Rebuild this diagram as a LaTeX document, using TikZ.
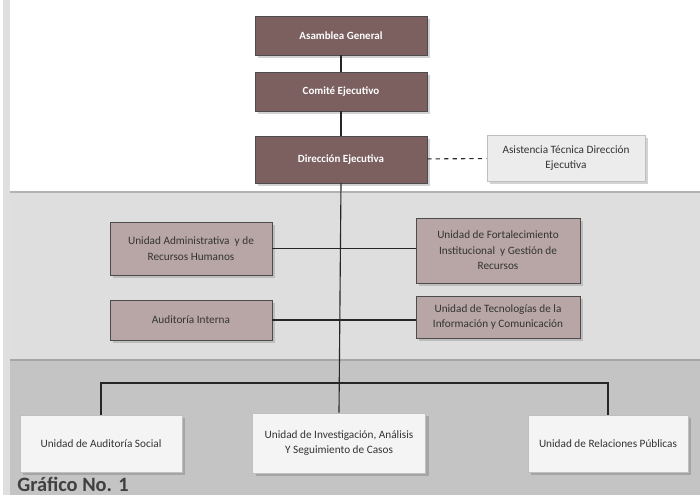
\documentclass[tikz,border=0pt]{standalone}
\usepackage{fontspec}
\setmainfont{Carlito}
\usetikzlibrary{shadows}
\definecolor{bandA}{RGB}{222,222,222}
\definecolor{bandB}{RGB}{196,196,196}
\definecolor{topfill}{RGB}{124,96,96}
\definecolor{midfill}{RGB}{184,166,166}
\definecolor{lowfill}{RGB}{244,244,244}
\definecolor{sidefill}{RGB}{236,236,236}
\begin{document}
\begin{tikzpicture}[x=0.025cm, y=-0.025cm]
    % Define node styles
    \tikzstyle{topnode}=[rectangle, fill=topfill, draw=gray!60!black, text=white, align=center, font=\fontsize{7.8}{10}\selectfont\bfseries, drop shadow={opacity=0.35}]
    \tikzstyle{midnode}=[rectangle, fill=midfill, draw=gray!60!black, text=black!80, align=center, font=\fontsize{8}{11}\selectfont, drop shadow={opacity=0.35}]
    \tikzstyle{lownode}=[rectangle, fill=lowfill, draw=gray!50, text=black!80, align=center, font=\fontsize{8}{11}\selectfont, drop shadow={opacity=0.45}]
    \tikzstyle{link}=[black!85, thick]

    \useasboundingbox (0,0) rectangle (700,495);

    % Background bands
    \fill[white] (0,0) rectangle (700,495);
    \fill[gray!25] (3,0) rectangle (10,495);
    \fill[bandA] (10,192) rectangle (700,360);
    \draw[gray!60, line width=1pt] (10,192) -- (700,192);
    \fill[bandB] (10,360) rectangle (700,495);
    \draw[gray!70, line width=1pt] (10,360) -- (700,360);

    % Top level: governing bodies
    \node[topnode, minimum width=4.3cm, minimum height=0.975cm] (asam) at (341,35.5) {Asamblea General};
    \node[topnode, minimum width=4.3cm, minimum height=0.975cm] (comite) at (341,91.5) {Comité Ejecutivo};
    \node[topnode, minimum width=4.3cm, minimum height=1.175cm] (dir) at (341,159.5) {Dirección Ejecutiva};
    \node[rectangle, fill=sidefill, draw=gray!50, text=black!80, align=center, font=\fontsize{8}{11}\selectfont, drop shadow={opacity=0.35}, minimum width=3.95cm, minimum height=1.15cm] (asist) at (566,158) {Asistencia Técnica Dirección\\Ejecutiva};

    % Middle level: support units
    \node[midnode, minimum width=4.05cm, minimum height=1.325cm] (adm) at (191,248.5) {Unidad Administrativa \ y de\\Recursos Humanos};
    \node[midnode, minimum width=4.05cm, minimum height=1.0cm] (audint) at (191,320) {Auditoría Interna};
    \node[midnode, minimum width=4.1cm, minimum height=1.625cm] (fort) at (498,250.5) {Unidad de Fortalecimiento\\Institucional \ y Gestión de\\Recursos};
    \node[midnode, minimum width=4.1cm, minimum height=1.05cm] (tec) at (498,317) {Unidad de Tecnologías de la\\Información y Comunicación};

    % Bottom level: operative units
    \node[lownode, minimum width=4.05cm, minimum height=1.425cm] (social) at (101,443.5) {Unidad de Auditoría Social};
    \node[lownode, minimum width=4.325cm, minimum height=1.5cm] (invest) at (339,443) {Unidad de Investigación, Análisis\\Y Seguimiento de Casos};
    \node[lownode, minimum width=4.0cm, minimum height=1.425cm] (rel) at (608,443.5) {Unidad de Relaciones Públicas};

    \coordinate (bus) at (339,383);

    % Draw hierarchy
    \draw[link] (asam) -- (comite);
    \draw[link] (comite) -- (dir);
    \draw[link] (dir.south) -- (invest.north);
    \draw[link, dashed] (dir) -- (asist);
    \draw[link] (adm.east) -- (adm.east -| fort.west);
    \draw[link] (audint.east) -- (audint.east -| tec.west);
    \draw[link] (social.north) |- (bus) -| (rel.north);

    % Caption
    \node[anchor=base west, font=\fontsize{14.5}{16}\selectfont\bfseries, text=black!75, inner sep=0pt] (caption) at (17,491) {Gráfico No. 1};

\end{tikzpicture}
\end{document}
